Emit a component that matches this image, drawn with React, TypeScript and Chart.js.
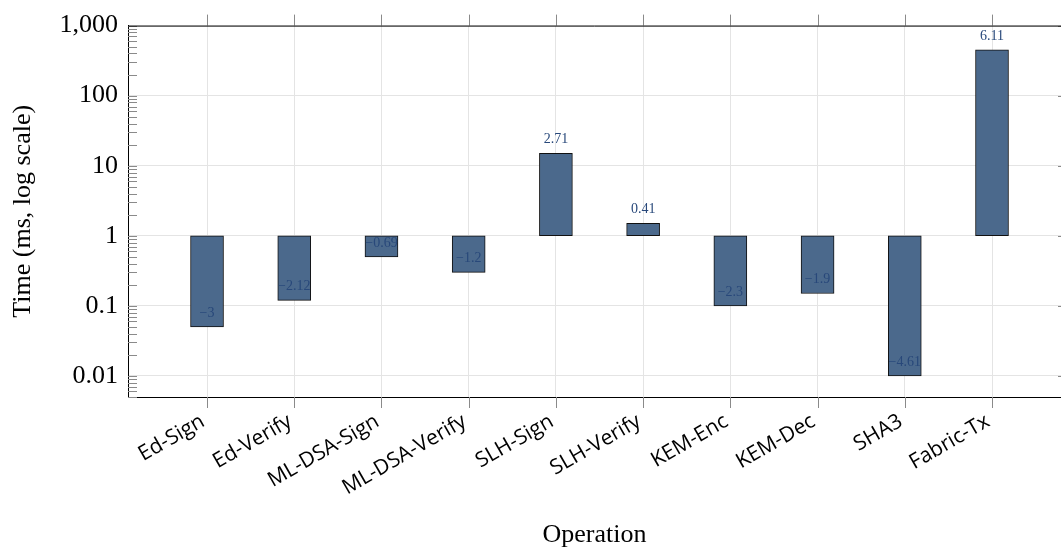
import React, { useEffect, useRef } from "react";
import { Chart, registerables } from "chart.js";

Chart.register(...registerables);

const categories = [
  "Ed-Sign",
  "Ed-Verify",
  "ML-DSA-Sign",
  "ML-DSA-Verify",
  "SLH-Sign",
  "SLH-Verify",
  "KEM-Enc",
  "KEM-Dec",
  "SHA3",
  "Fabric-Tx",
];
const timesMs = [0.05, 0.12, 0.5, 0.3, 15, 1.5, 0.1, 0.15, 0.01, 450];
const baseMs = 1;
const barLabels = ["−3", "−2.12", "−0.69", "−1.2", "2.71", "0.41", "−2.3", "−1.9", "−4.61", "6.11"];
const yTickValues = [0.01, 0.1, 1, 10, 100, 1000];
const yTickLabels = ["0.01", "0.1", "1", "10", "100", "1,000"];

const SERIF = "'Liberation Serif', 'DejaVu Serif', serif";

const decorPlugin = {
  id: "decor",
  afterDraw(chart: any) {
    const { ctx, chartArea: a, scales } = chart;
    const x = scales.x;
    const y = scales.y;
    ctx.save();
    ctx.strokeStyle = "#8a8a8a";
    ctx.lineWidth = 1;
    ctx.beginPath();
    for (let i = 0; i < categories.length; i++) {
      const px = Math.round(x.getPixelForValue(i)) + 0.5;
      ctx.moveTo(px, a.top - 11);
      ctx.lineTo(px, a.top);
      ctx.moveTo(px, a.bottom);
      ctx.lineTo(px, a.bottom + 11);
    }
    for (let e = -3; e <= 3; e++) {
      for (let k = 1; k <= 9; k++) {
        const v = k * Math.pow(10, e);
        if (v < y.min * 0.999 || v > y.max * 1.001) continue;
        const py = Math.round(y.getPixelForValue(v)) + 0.5;
        ctx.moveTo(a.left, py);
        ctx.lineTo(a.left + 9, py);
        if (k === 1) {
          ctx.moveTo(a.right - 3, py);
          ctx.lineTo(a.right, py);
        }
      }
    }
    ctx.stroke();

    ctx.strokeStyle = "#000";
    ctx.beginPath();
    ctx.moveTo(a.left, a.top + 0.5);
    ctx.lineTo(a.right, a.top + 0.5);
    ctx.stroke();

    ctx.fillStyle = "#28487a";
    ctx.font = `14px ${SERIF}`;
    ctx.textAlign = "center";
    ctx.textBaseline = "middle";
    const meta = chart.getDatasetMeta(0);
    meta.data.forEach((bar: any, i: number) => {
      ctx.fillText(barLabels[i], bar.x, y.getPixelForValue(timesMs[i]) - 14);
    });
    ctx.restore();
  },
};

export default function App() {
  const ref = useRef<HTMLCanvasElement | null>(null);
  useEffect(() => {
    if (!ref.current) return;
    const chart = new Chart(ref.current, {
      type: "bar",
      data: {
        datasets: [
          {
            data: categories.map((_, i) => ({ x: i, y: [baseMs, timesMs[i]] })) as any,
            backgroundColor: "rgb(75,105,140)",
            borderColor: "#111",
            borderWidth: 1,
            borderSkipped: false,
            barThickness: 33,
          },
        ],
      },
      options: {
        animation: false,
        responsive: false,
        layout: { padding: { top: 25, left: 0, right: 0, bottom: 0 } },
        plugins: { legend: { display: false }, tooltip: { enabled: false } },
        scales: {
          x: {
            type: "linear",
            offset: false,
            min: -0.906,
            max: 9.791,
            afterBuildTicks: (scale: any) => {
              scale.ticks = categories.map((_, i) => ({ value: i }));
            },
            afterFit: (scale: any) => {
              scale.height = 155;
            },
            grid: { color: "#e4e4e4", drawTicks: false, offset: false },
            border: { color: "#000", width: 1 },
            ticks: {
              autoSkip: false,
              minRotation: 30,
              maxRotation: 30,
              padding: 12,
              labelOffset: -4,
              color: "#000",
              font: { family: "'Open Sans', sans-serif", size: 21 },
              callback: (v: any) => categories[v as number] ?? "",
            },
            title: {
              display: true,
              text: "Operation",
              color: "#000",
              font: { family: SERIF, size: 26 },
              padding: { top: 0, bottom: 1 },
            },
          },
          y: {
            type: "logarithmic",
            min: 0.005,
            max: 1000,
            afterBuildTicks: (scale: any) => {
              scale.ticks = yTickValues.map((v) => ({ value: v, major: true }));
            },
            afterFit: (scale: any) => {
              scale.width = 128;
            },
            grid: { color: "#e4e4e4", drawTicks: false },
            border: { color: "#000", width: 1 },
            ticks: {
              padding: 10,
              color: "#000",
              font: { family: SERIF, size: 26 },
              callback: (v: any) => {
                const idx = yTickValues.findIndex((t) => Math.abs(t - v) < t * 1e-6);
                return idx >= 0 ? yTickLabels[idx] : "";
              },
            },
            title: {
              display: true,
              text: "Time (ms, log scale)",
              color: "#000",
              font: { family: SERIF, size: 26 },
              padding: { top: 8, bottom: 0 },
            },
          },
        },
      },
      plugins: [decorPlugin],
    });
    return () => chart.destroy();
  }, []);

  return (
    <div
      style={{
        position: "fixed",
        left: 0,
        top: 0,
        width: 1061,
        height: 552,
        overflow: "hidden",
        background: "#fff",
      }}
    >
      <canvas ref={ref} width={1061} height={552} style={{ display: "block" }} />
    </div>
  );
}
